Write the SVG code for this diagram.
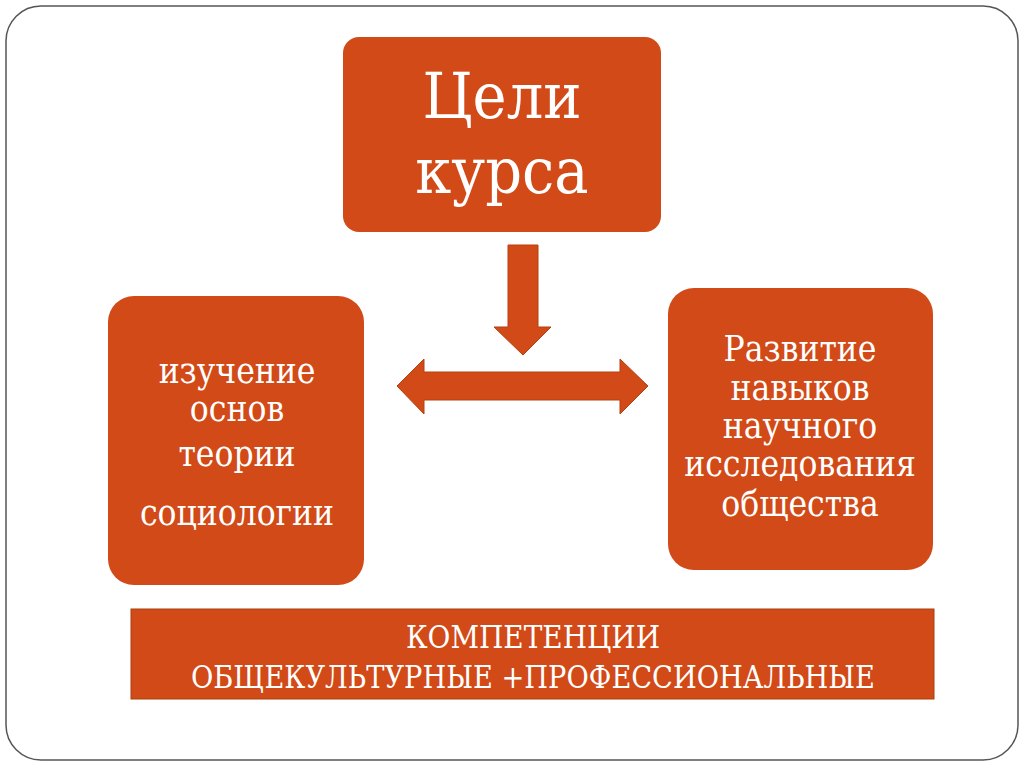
<svg xmlns="http://www.w3.org/2000/svg" width="1024" height="767" viewBox="0 0 1024 767">
<style>
.box{fill:#D24A17;}
.t{font-family:"DejaVu Serif Condensed","DejaVu Serif","Liberation Serif",serif;fill:#ffffff;text-anchor:middle;}
.arrow{fill:#D24A17;stroke:#B5400F;stroke-width:1;}
</style>
<rect x="0" y="0" width="1024" height="767" fill="#ffffff"/>
<rect x="6" y="6" width="1012" height="754" rx="35" ry="35" fill="#ffffff" stroke="#555555" stroke-width="1.5"/>
<g id="goals">
<rect class="box" x="343" y="37" width="318" height="195" rx="16" ry="16"/>
<text class="t" x="502" y="118" font-size="64">Цели</text>
<text class="t" x="502" y="193" font-size="64">курса</text>
</g>
<g id="theory">
<rect class="box" x="108" y="296" width="256" height="289" rx="26" ry="26"/>
<text class="t" x="237" y="383" font-size="35">изучение</text>
<text class="t" x="237" y="421" font-size="35">основ</text>
<text class="t" x="237" y="466" font-size="35">теории</text>
<text class="t" x="237" y="525" font-size="35">социологии</text>
</g>
<g id="skills">
<rect class="box" x="668" y="288" width="265" height="282" rx="26" ry="26"/>
<text class="t" x="800" y="361" font-size="35">Развитие</text>
<text class="t" x="800" y="400" font-size="35">навыков</text>
<text class="t" x="800" y="438" font-size="35">научного</text>
<text class="t" x="800" y="476" font-size="35">исследования</text>
<text class="t" x="800" y="516" font-size="35">общества</text>
</g>
<g id="competences">
<rect x="131" y="609" width="803" height="90" fill="#D24A17" stroke="#A8400F" stroke-width="1"/>
<text class="t" x="533" y="648" font-size="31">КОМПЕТЕНЦИИ</text>
<text class="t" x="533" y="688" font-size="31" textLength="684" lengthAdjust="spacingAndGlyphs">ОБЩЕКУЛЬТУРНЫЕ +ПРОФЕССИОНАЛЬНЫЕ</text>
</g>
<g id="connectors">
<path class="arrow" d="M508,245 L538,245 L538,327 L551,327 L523,355 L494,327 L508,327 Z"/>
<path class="arrow" d="M397,386 L424,359 L424,372 L620,372 L620,359 L648,386 L620,414 L620,400 L424,400 L424,414 Z"/>
</g>
</svg>
